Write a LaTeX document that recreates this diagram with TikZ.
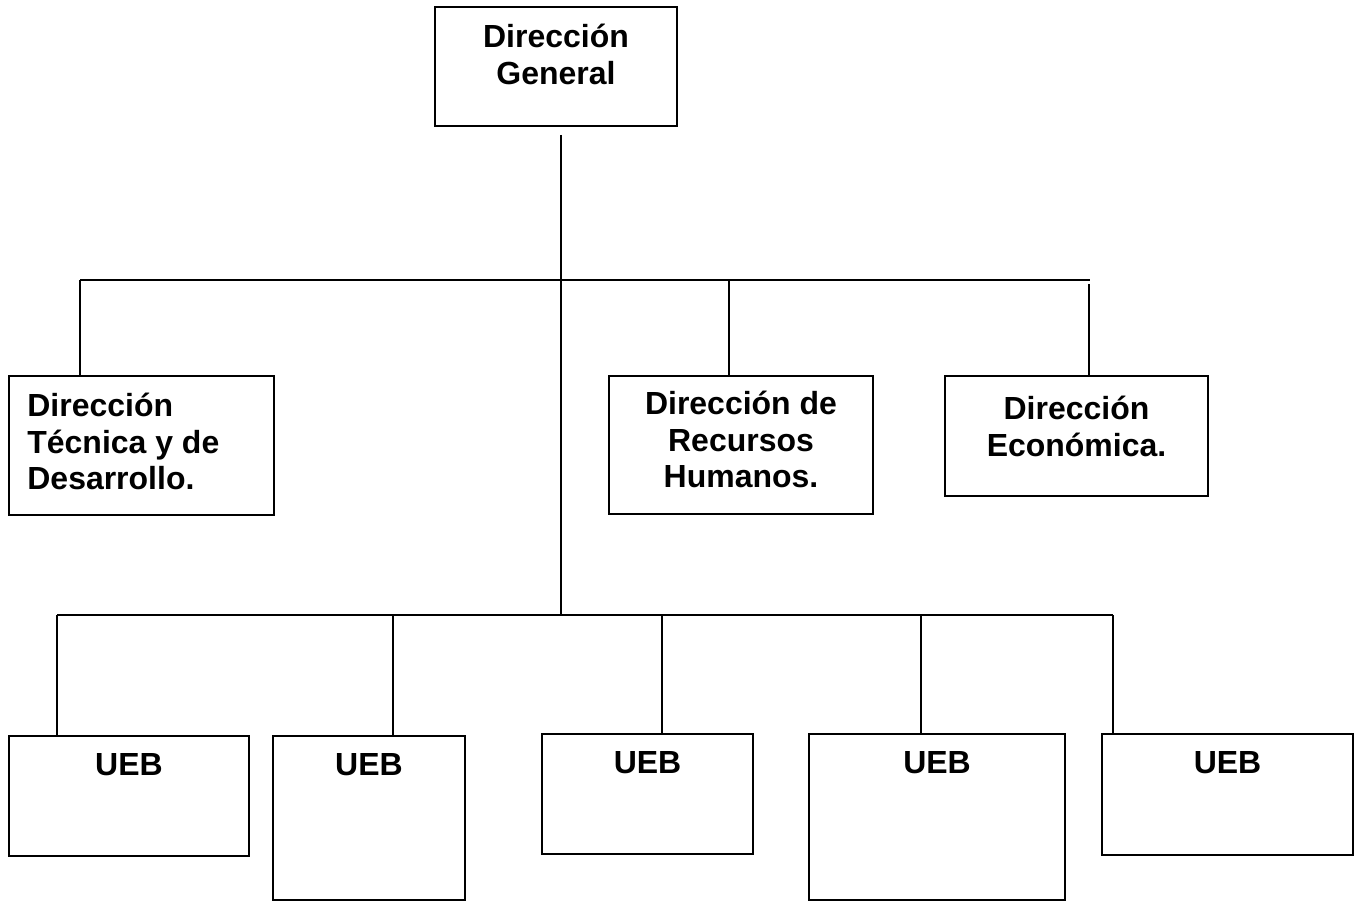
\documentclass[tikz,border=0pt]{standalone}
\usepackage{fontspec}
\setmainfont{Liberation Sans}
\usetikzlibrary{positioning}

\tikzset{
  caja/.style 2 args={draw, line width=1.1pt, inner sep=0pt,
    minimum width=#1*0.02cm, minimum height=#2*0.02cm},
  rotulo/.style={inner sep=0pt, align=center,
    font=\fontsize{18.2}{20.7}\selectfont\bfseries},
  linea/.style={line width=0.9pt}
}

\begin{document}
\begin{tikzpicture}[x=0.02cm, y=-0.02cm]
        \useasboundingbox (0,0) rectangle (1355,901);

        % Direcciones
        \node[caja={242}{119}] (gen) at (556,66.5) {};
        \node[caja={265}{139}] (tec) at (141.5,445.5) {};
        \node[caja={264}{138}] (rh)  at (741,445) {};
        \node[caja={263}{120}] (eco) at (1076.5,436) {};

        \node[rotulo, below=0.36cm of gen.north] (genT) {Dirección\\General};
        \node[rotulo, align=left, anchor=north west] (tecT) at ([shift={(19,18)}]tec.north west)
            {Dirección\\Técnica y de\\Desarrollo.};
        \node[rotulo, below=0.32cm of rh.north] (rhT) {Dirección de\\Recursos\\Humanos.};
        \node[rotulo, below=0.42cm of eco.north] (ecoT) {Dirección\\Económica.};

        % UEB
        \foreach \i/\cx/\cy/\w/\h in {1/129/796/240/120, 2/369/818/192/164,
            3/647.5/794/211/120, 4/937/817/256/166, 5/1227.5/794.5/251/121} {
            \node[caja={\w}{\h}] (u\i) at (\cx,\cy) {};
            \node[rotulo, below=0.36cm of u\i.north] (u\i T) {UEB};
        }

        % Lineas de mando
        \coordinate (arr) at (561,135);
        \coordinate (cruce) at (561,280);
        \coordinate (eje) at (561,615);
        \coordinate (bI) at (80,280);
        \coordinate (bD) at (1090,280);
        \coordinate (d2) at (729,280);
        \coordinate (d3) at (1089,284);
        \draw[linea] (arr) -- (eje);
        \draw[linea] (bI) -- (bD);
        \draw[linea] (bI) -- (bI |- tec.north);
        \draw[linea] (d2) -- (d2 |- rh.north);
        \draw[linea] (d3) -- (d3 |- eco.north);

        \foreach \i/\x in {1/57, 2/393, 3/662, 4/921, 5/1113} {
            \coordinate (p\i) at (\x,615);
            \draw[linea] (p\i) -- (p\i |- u\i.north);
        }
        \draw[linea] (p1) -- (p5);
    \end{tikzpicture}
\end{document}
